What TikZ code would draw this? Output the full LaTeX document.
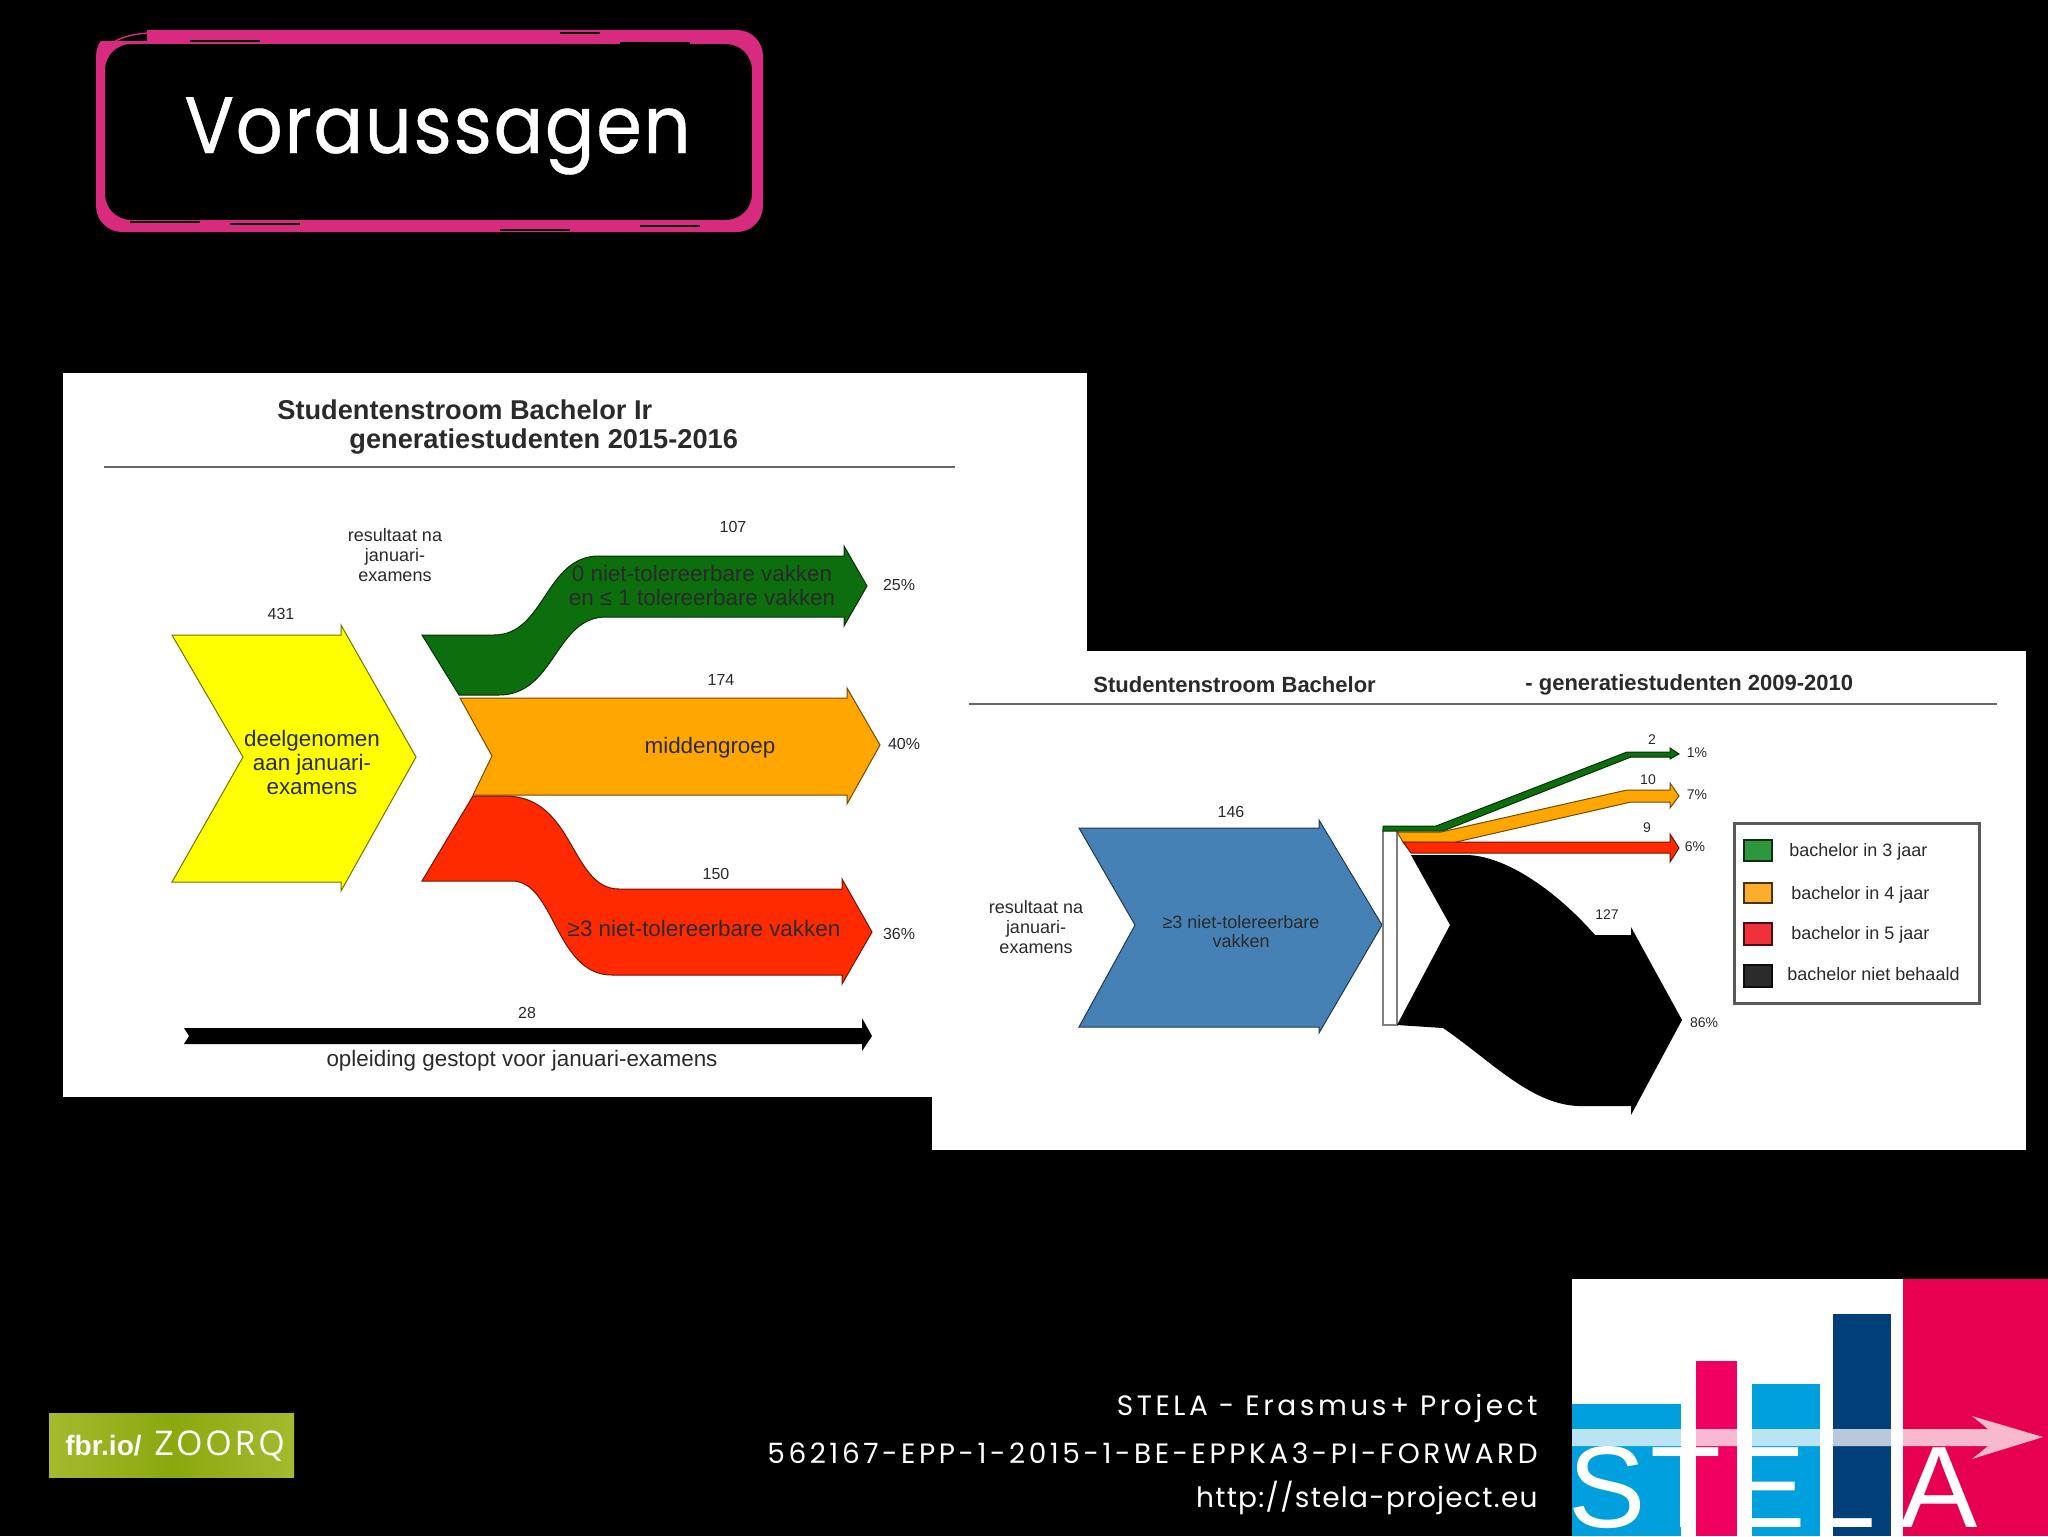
\documentclass[tikz,border=0pt]{standalone}
\usepackage{fontspec}
\setmainfont{Liberation Sans}
\newfontfamily\handbig[LetterSpace=2,FakeStretch=0.92,FakeBold=0.5]{Poppins}
\newfontfamily\handsmall[LetterSpace=12.7]{Poppins}
\newfontfamily\handurl[LetterSpace=4.6]{Poppins}
\newfontfamily\zoorq[LetterSpace=8]{Open Sans}
\usepackage{tikz}
\definecolor{framepink}{HTML}{D82A7E}
\definecolor{flowyellow}{HTML}{FFFF00}
\definecolor{flowgreen}{HTML}{0C6E0C}
\definecolor{floworange}{HTML}{FFA600}
\definecolor{flowred}{HTML}{FF2A00}
\definecolor{flowblue}{HTML}{4681B5}
\definecolor{inktxt}{HTML}{2A2A2A}
\definecolor{lgdgreen}{HTML}{2E963C}
\definecolor{lgdorange}{HTML}{FBAE2C}
\definecolor{lgdred}{HTML}{F0303A}
\definecolor{lgdblack}{HTML}{2B2B2B}
\definecolor{fbrlight}{HTML}{A5BA2E}
\definecolor{fbrmid}{HTML}{8BA80E}
\definecolor{logocyan}{HTML}{00A0DE}
\definecolor{logopink}{HTML}{F0005F}
\definecolor{logored}{HTML}{E80050}
\definecolor{logonavy}{HTML}{003F7A}

\begin{document}
\begin{tikzpicture}[x=0.5pt,y=-0.5pt]
    \tikzstyle{panel}=[fill=white,draw=none]
    \tikzstyle{rulegray}=[draw=black!60,line width=1pt]
    \tikzstyle{flow}=[draw=black!55!#1,line width=0.5pt,fill=#1]
    \tikzstyle{every node}=[inner sep=0pt,text=inktxt,align=center]
    \tikzstyle{small}=[font=\fontsize{8}{8}\selectfont]
    \tikzstyle{tiny}=[font=\fontsize{7}{7}\selectfont]
    \tikzstyle{smalltxt}=[font=\fontsize{9}{10}\selectfont]
    \tikzstyle{flowtxt}=[font=\fontsize{11.2}{12}\selectfont]
    \tikzstyle{lefthead}=[font=\bfseries\fontsize{13.6}{13.6}\selectfont,anchor=west]
    \tikzstyle{righthead}=[font=\bfseries\fontsize{11}{11}\selectfont,anchor=west]
    \tikzstyle{lgd}=[font=\fontsize{9}{9}\selectfont,anchor=west]
    \tikzstyle{swatch}=[line width=1pt,draw=black!70!#1,fill=#1]
    \tikzstyle{foot}=[text=white,anchor=base east]
    \tikzstyle{logoltr}=[font=\fontsize{58}{58}\selectfont,text=white,anchor=base west]
    \useasboundingbox (0,0) rectangle (2048,1536);
    \fill[black] (0,0) rectangle (2048,1536);

    % title frame
    \fill[framepink,even odd rule,rounded corners=13pt] (96,30) rectangle (763,232) (105,44) rectangle (752,220);
    \fill[black] (92,26) rectangle (147,41);
    \draw[framepink,line width=0.7pt] (99,70) .. controls (101,48) and (112,36) .. (147,33);
    \foreach \xa/\ya/\xb in {190/41/260,560/33/600,620/43/690,130/222/200,230/224/300,500/230/570,640/226/700}
      \draw[black,line width=0.6pt] (\xa,\ya) -- (\xb,\ya);
    \node[anchor=base west,text=white,font=\fontsize{40}{40}\handbig] (title) at (184,153) {Voraussagen};

    % panel left
    \fill[panel] (63,373) rectangle (1087,1097);
    \node[lefthead] (lefttitlea) at (277,410) {Studentenstroom Bachelor Ir};
    \node[lefthead] (lefttitleb) at (349,442) {generatiestudenten 2015-2016};
    \draw[rulegray] (104,467) -- (955,467);

    \draw[flow=flowyellow] (172,635) -- (341,635) -- (341,625) -- (416,757) -- (341,891) -- (341,882) -- (172,882) -- (243,757) -- cycle;
    \draw[flow=flowgreen] (422,635) -- (494,635) .. controls (545,635) and (545,556) .. (599,556) -- (844,556) -- (844,546) -- (867,586) -- (844,626) -- (844,617) -- (606,617) .. controls (555,617) and (555,695) .. (499,695) -- (459,695) -- cycle;
    \draw[flow=floworange] (460,698) -- (847,698) -- (847,688) -- (880,745) -- (847,804) -- (847,795) -- (473,795) -- (492,756) -- cycle;
    \draw[flow=flowred] (422,881) -- (473,796) -- (505,796) .. controls (575,796) and (570,889) .. (619,889) -- (842,889) -- (842,879) -- (872,932) -- (842,984) -- (842,975) -- (612,975) .. controls (555,975) and (555,881) .. (512,881) -- cycle;
    \fill[black] (184,1028) -- (862,1028) -- (862,1018) -- (872,1036) -- (862,1051) -- (862,1044) -- (184,1044) -- (189,1036) -- cycle;

    \node[flowtxt] (deelname) at (312,762) {deelgenomen\\aan januari-\\examens};
    \node[flowtxt] (nultol) at (702,585) {0 niet-tolereerbare vakken\\en ≤ 1 tolereerbare vakken};
    \node[flowtxt] (midden) at (710,748) {middengroep};
    \node[flowtxt] (drieniet) at (704,928) {≥3 niet-tolereerbare vakken};
    \node[smalltxt] (resleft) at (395,555) {resultaat na\\januari-\\examens};
    \node[small] (n431) at (281,614) {431};
    \node[small] (n107) at (733,527) {107};
    \node[small] (p25) at (899,585) {25\%};
    \node[small] (n174) at (721,680) {174};
    \node[small] (p40) at (904,744) {40\%};
    \node[small] (n150) at (716,874) {150};
    \node[small] (p36) at (899,934) {36\%};
    \node[small] (n28) at (527,1013) {28};
    \node[flowtxt] (gestopt) at (522,1061) {opleiding gestopt voor januari-examens};

    % panel right
    \fill[panel] (932,651) rectangle (2026,1150);
    \node[righthead] (righttitlea) at (1093,685) {Studentenstroom Bachelor};
    \node[righthead] (righttitleb) at (1525,685) {- generatiestudenten 2009-2010};
    \draw[rulegray] (969,704) -- (1997,704);

    \draw[flow=flowblue] (1079,828) -- (1319,828) -- (1319,820) -- (1382,925) -- (1319,1033) -- (1319,1027) -- (1079,1027) -- (1135,925) -- cycle;
    \draw[draw=black!50,fill=white,line width=1pt] (1383,830) rectangle (1397,1025);
    \draw[flow=flowgreen] (1383,826) -- (1436,826) -- (1627,752) -- (1670,752) -- (1670,748) -- (1679,754) -- (1670,759) -- (1670,757) -- (1631,757) -- (1443,831) -- (1383,831) -- cycle;
    \draw[flow=floworange] (1397,832) -- (1441,832) -- (1627,790) -- (1670,790) -- (1670,783) -- (1679,796) -- (1670,808) -- (1670,802) -- (1631,802) -- (1443,845) -- (1403,842) -- cycle;
    \draw[flow=flowred] (1403,842) -- (1670,842) -- (1670,834) -- (1679,848) -- (1670,862) -- (1670,853) -- (1411,853) -- cycle;
    \fill[black] (1411,855) -- (1468,855) .. controls (1510,857) and (1560,895) .. (1595,935) -- (1631,935) -- (1631,927) -- (1682,1020) -- (1631,1115) -- (1631,1106) -- (1578,1106) .. controls (1530,1104) and (1490,1060) .. (1443,1028) -- (1397,1025) -- (1450,925) -- cycle;

    \node[font=\fontsize{9}{9.5}\selectfont] (drievak) at (1241,932) {≥3 niet-tolereerbare\\vakken};
    \node[smalltxt] (resright) at (1036,927) {resultaat na\\januari-\\examens};
    \node[small] (n146) at (1231,812) {146};
    \node[tiny] (n2) at (1652,740) {2};
    \node[tiny] (p1) at (1697,753) {1\%};
    \node[tiny] (n10) at (1648,780) {10};
    \node[tiny] (p7) at (1697,795) {7\%};
    \node[tiny] (n9) at (1647,828) {9};
    \node[tiny] (p6) at (1695,847) {6\%};
    \node[tiny] (n127) at (1607,915) {127};
    \node[tiny] (p86) at (1704,1023) {86\%};

    % legend
    \draw[draw=black!65,line width=1.5pt] (1734,823) rectangle (1979,1003);
    \foreach \ya/\yb/\clr/\nm/\lx/\ly/\lbl in {840/861/lgdgreen/a/1789/852/bachelor in 3 jaar,883/903/lgdorange/b/1791/895/bachelor in 4 jaar,923/945/lgdred/c/1791/935/bachelor in 5 jaar,965/987/lgdblack/d/1787/974/bachelor niet behaald}{
      \draw[swatch=\clr] (1744,\ya) rectangle (1772,\yb);
      \node[lgd] (lgd\nm) at (\lx,\ly) {\lbl};
    }

    % bottom strip
    \shade[left color=fbrlight,right color=fbrlight,middle color=fbrmid] (49,1413) rectangle (294,1477);
    \node[anchor=base west,text=white,font=\bfseries\fontsize{14}{14}\selectfont] (fbr) at (65,1455) {fbr.io/};
    \node[anchor=base west,text=white,font=\fontsize{17}{17}\zoorq] (zoorq) at (154,1455) {ZOORQ};

    \node[foot,font=\fontsize{14}{14}\handsmall] (foota) at (1538,1415) {STELA - Erasmus+ Project};
    \node[foot,font=\fontsize{14}{14}\handsmall] (footb) at (1538,1463) {562167-EPP-1-2015-1-BE-EPPKA3-PI-FORWARD};
    \node[foot,font=\fontsize{14}{14}\handurl] (footc) at (1538,1507) {http://stela-project.eu};

    % logo
    \fill[white] (1572,1279) rectangle (1903,1536);
    \fill[logored] (1903,1279) rectangle (2048,1536);
    \fill[logocyan] (1572,1404) rectangle (1681,1536);
    \fill[logopink] (1696,1361) rectangle (1737,1536);
    \fill[logocyan] (1752,1384) rectangle (1820,1536);
    \fill[logonavy] (1833,1314) rectangle (1891,1536);
    \fill[white,fill opacity=0.72] (1572,1429) -- (1988,1429) -- (1972,1416) -- (2043,1437) -- (1972,1459) -- (1988,1446) -- (1572,1446) -- cycle;
    \node[logoltr] (ls) at (1568,1527) {S};
    \node[logoltr] (lt) at (1650,1527) {T};
    \node[logoltr] (le) at (1728,1527) {E};
    \node[logoltr] (ll) at (1811,1527) {L};
    \node[logoltr] (la) at (1900,1527) {A};
\end{tikzpicture}
\end{document}
